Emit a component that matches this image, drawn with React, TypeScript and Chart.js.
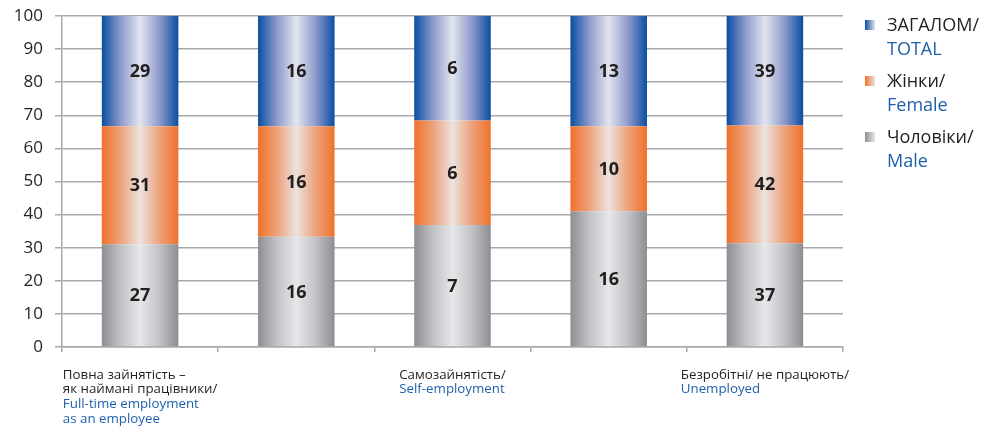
import React, { useEffect, useRef } from "react";
import { Chart, registerables } from "chart.js";

Chart.register(...registerables);

const categories = ["c1", "c2", "c3", "c4", "c5"];
const maleValues = [27, 16, 7, 16, 37];
const femaleValues = [31, 16, 6, 10, 42];
const totalValues = [29, 16, 6, 13, 39];

const yTickValues = [0, 10, 20, 30, 40, 50, 60, 70, 80, 90, 100];

const xLabelGroups = [
  { index: 0, ua: ["Повна зайнятість –", "як наймані працівники/"], en: ["Full-time employment", "as an employee"] },
  { index: 2, ua: ["Самозайнятість/"], en: ["Self-employment"] },
  { index: 4, ua: ["Безробітні/ не працюють/"], en: ["Unemployed"] },
];

const legendItems = [
  { ua: "ЗАГАЛОМ/", en: "TOTAL", key: "total" },
  { ua: "Жінки/", en: "Female", key: "female" },
  { ua: "Чоловіки/", en: "Male", key: "male" },
];

const FONT = "'Open Sans', 'Noto Sans', sans-serif";
const TEXT = "#231f20";
const BLUE_TEXT = "#1f60ab";
const GRID = "#a7a9ac";
const BAR_PCT = 0.49;

const gradStops: Record<string, [number, string][]> = {
  male: [[0, "#8d8e92"], [0.25, "#c2c3c6"], [0.5, "#e6e7e9"], [0.75, "#c2c3c6"], [1, "#8d8e92"]],
  female: [[0, "#f0712a"], [0.25, "#eda27c"], [0.5, "#ebe3de"], [0.75, "#eda27c"], [1, "#f0712a"]],
  total: [[0, "#0a4ea2"], [0.25, "#8f9bcc"], [0.5, "#e2e5ee"], [0.75, "#8f9bcc"], [1, "#0a4ea2"]],
};

const totals = categories.map((_, i) => maleValues[i] + femaleValues[i] + totalValues[i]);
const share = (arr: number[]) => arr.map((v, i) => (v / totals[i]) * 100);

function barGradient(key: string) {
  return (ctx: any) => {
    const chart = ctx.chart;
    const xs = chart.scales && chart.scales.x;
    const stops = gradStops[key];
    if (!xs || ctx.type !== "data") return stops[0][1];
    const cx = xs.getPixelForValue(ctx.dataIndex);
    const w = (xs.width / categories.length) * BAR_PCT;
    if (!isFinite(cx) || !isFinite(w) || w <= 0) return stops[0][1];
    const g = chart.ctx.createLinearGradient(cx - w / 2, 0, cx + w / 2, 0);
    stops.forEach(([o, c]) => g.addColorStop(o, c));
    return g;
  };
}

const rawByDataset = [maleValues, femaleValues, totalValues];

const valueLabelPlugin = {
  id: "valueLabels",
  afterDatasetsDraw(chart: any) {
    const ctx = chart.ctx;
    ctx.save();
    ctx.font = `bold 18px ${FONT}`;
    ctx.fillStyle = TEXT;
    ctx.textAlign = "center";
    ctx.textBaseline = "middle";
    chart.data.datasets.forEach((_: any, di: number) => {
      const meta = chart.getDatasetMeta(di);
      meta.data.forEach((el: any, i: number) => {
        ctx.fillText(String(rawByDataset[di][i]), el.x, (el.y + el.base) / 2 + 1);
      });
    });
    ctx.restore();
  },
};

const xLabelPlugin = {
  id: "xLabels",
  afterDraw(chart: any) {
    const ctx = chart.ctx;
    const xs = chart.scales.x;
    const bottom = chart.chartArea.bottom;
    ctx.save();
    ctx.font = `13.3px ${FONT}`;
    ctx.textAlign = "left";
    ctx.textBaseline = "middle";
    xLabelGroups.forEach((g) => {
      const lines = [...g.ua.map((t) => ({ t, c: TEXT })), ...g.en.map((t) => ({ t, c: BLUE_TEXT }))];
      const maxW = Math.max(...lines.map((l) => ctx.measureText(l.t).width));
      const cx = xs.getPixelForValue(g.index);
      const x0 = cx - maxW / 2;
      lines.forEach((l, k) => {
        ctx.fillStyle = l.c;
        ctx.fillText(l.t, x0, bottom + 28 + k * 14.7);
      });
    });
    ctx.restore();
  },
};

const legendPlugin = {
  id: "customLegend",
  afterDraw(chart: any) {
    const ctx = chart.ctx;
    const right = chart.chartArea.right;
    const top = chart.chartArea.top;
    ctx.save();
    ctx.font = `18px ${FONT}`;
    ctx.textAlign = "left";
    ctx.textBaseline = "middle";
    legendItems.forEach((it, k) => {
      const y = top + 9 + k * 56;
      const sx = right + 22;
      const g = ctx.createLinearGradient(sx, 0, sx + 10, 0);
      const st = gradStops[it.key];
      g.addColorStop(0, st[0][1]);
      g.addColorStop(1, st[2][1]);
      ctx.fillStyle = g;
      ctx.fillRect(sx, y - 5, 10, 10);
      ctx.fillStyle = TEXT;
      ctx.fillText(it.ua, right + 44, y + 1);
      ctx.fillStyle = BLUE_TEXT;
      ctx.fillText(it.en, right + 44, y + 25);
    });
    ctx.restore();
  },
};

export default function App() {
  const ref = useRef<HTMLCanvasElement | null>(null);
  useEffect(() => {
    if (!ref.current) return;
    Chart.defaults.font.family = FONT;
    const chart = new Chart(ref.current, {
      type: "bar",
      data: {
        labels: categories,
        datasets: [
          { label: "Male", data: share(maleValues), backgroundColor: barGradient("male") as any },
          { label: "Female", data: share(femaleValues), backgroundColor: barGradient("female") as any },
          { label: "Total", data: share(totalValues), backgroundColor: barGradient("total") as any },
        ],
      },
      options: {
        animation: false,
        responsive: true,
        maintainAspectRatio: false,
        datasets: { bar: { barPercentage: BAR_PCT, categoryPercentage: 1 } },
        layout: { padding: { top: 16, right: 153, left: 0, bottom: 0 } },
        plugins: { legend: { display: false }, tooltip: { enabled: false } },
        scales: {
          x: {
            stacked: true,
            ticks: { display: false },
            grid: { drawOnChartArea: false, drawTicks: true, tickLength: 5, color: GRID, lineWidth: 1.5, offset: true },
            border: { display: true, color: GRID, width: 1.5 },
            afterFit: (s: any) => { s.height = 82; s.paddingLeft = 0; s.paddingRight = 0; },
          },
          y: {
            stacked: true,
            min: 0,
            max: 100,
            afterBuildTicks: (s: any) => { s.ticks = yTickValues.map((v) => ({ value: v })); },
            ticks: { color: TEXT, font: { size: 17, family: FONT }, padding: 12 },
            grid: { color: GRID, lineWidth: 1.5, tickLength: 7 },
            border: { display: true, color: GRID, width: 1.5 },
            afterFit: (s: any) => { s.width = 62; s.paddingTop = 0; s.paddingBottom = 0; },
          },
        },
      },
      plugins: [valueLabelPlugin, xLabelPlugin, legendPlugin],
    });
    chart.update();
    return () => chart.destroy();
  }, []);
  return (
    <div style={{ position: "absolute", left: 0, top: 0, width: 996, height: 429, background: "#fff" }}>
      <canvas ref={ref} />
    </div>
  );
}
